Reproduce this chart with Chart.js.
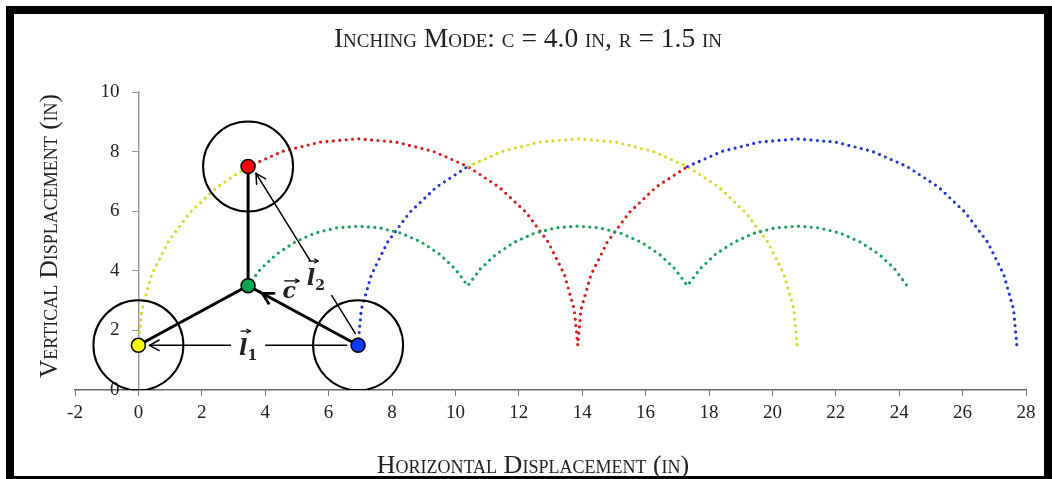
<!DOCTYPE html>
<html>
<head>
<meta charset="utf-8" />
<title>Inching Mode</title>
<script src="https://cdn.jsdelivr.net/npm/chart.js"></script>
<style>
  * { box-sizing: border-box; margin: 0; padding: 0; }
  html, body { width: 1052px; height: 479px; overflow: hidden; background: #fff; }
  #frame {
    position: absolute; left: 6px; top: 6px;
    width: 1046px; height: 478px;
    border: 8px solid #000; /* thick black frame round the figure */
    overflow: hidden;
  }
  #chart { display: block; }
</style>
</head>
<body>
<div id="frame"><canvas id="chart" width="1059" height="462"></canvas></div>
<script>
  const titleText = "Inching Mode: c = 4.0 in, r = 1.5 in";
  const xTitleText = "Horizontal Displacement (in)";
  const yTitleText = "Vertical Displacement (in)";

  // dotted paths (in), null = hidden under another path
  const yellowX = [0, 0.11, 0.42, 0.93, 1.62, 2.48, 3.46, null, 10.39, 11.49, 12.65, 13.86, 15.06, 16.23, 17.32, 18.31, 19.16, 19.86, 20.37, 20.68, 20.78];
  const yellowY = [1.5, 2.7, 3.87, 4.96, 5.95, 6.81, 7.5, null, 7.5, 8.01, 8.32, 8.43, 8.32, 8.01, 7.5, 6.81, 5.95, 4.96, 3.87, 2.7, 1.5];
  const redX = [3.46, 4.56, 5.73, 6.93, 8.13, 9.3, 10.39, 11.38, 12.24, 12.93, 13.44, 13.75, 13.86, 13.96, 14.28, 14.79, 15.48, 16.33, 17.32];
  const redY = [7.5, 8.01, 8.32, 8.43, 8.32, 8.01, 7.5, 6.81, 5.95, 4.96, 3.87, 2.7, 1.5, 2.7, 3.87, 4.96, 5.95, 6.81, 7.5];
  const blueX = [6.93, 7.03, 7.35, 7.86, 8.55, 9.4, 10.39, null, 17.32, 18.42, 19.58, 20.78, 21.99, 23.15, 24.25, 25.24, 26.09, 26.79, 27.3, 27.61, 27.71];
  const blueY = [1.5, 2.7, 3.87, 4.96, 5.95, 6.81, 7.5, null, 7.5, 8.01, 8.32, 8.43, 8.32, 8.01, 7.5, 6.81, 5.95, 4.96, 3.87, 2.7, 1.5];
  const greenX = [3.46, 3.86, 4.36, 4.93, 5.56, 6.23, 6.93, 7.62, 8.3, 8.93, 9.5, 9.99, 10.39,
    10.79, 11.29, 11.86, 12.49, 13.16, 13.86, 14.55, 15.22, 15.86, 16.43, 16.92, 17.32,
    17.72, 18.21, 18.79, 19.42, 20.09, 20.78, 21.48, 22.15, 22.78, 23.36, 23.85, 24.25];
  const greenY = [3.5, 4.07, 4.56, 4.96, 5.26, 5.44, 5.5, 5.44, 5.26, 4.96, 4.56, 4.07, 3.5,
    4.07, 4.56, 4.96, 5.26, 5.44, 5.5, 5.44, 5.26, 4.96, 4.56, 4.07, 3.5,
    4.07, 4.56, 4.96, 5.26, 5.44, 5.5, 5.44, 5.26, 4.96, 4.56, 4.07, 3.5];

  // robot sketch: wheels (yellow, blue, red) and hub (green)
  const nodeX = [0, 6.93, 3.46, 3.46];
  const nodeY = [1.5, 1.5, 7.5, 3.5];
  const nodeColors = ["#ffff00", "#0a3cff", "#ff0000", "#00a650"];

  // vector arrows: start -> tip (in)
  const arrowFromX = [6.57, 6.84];
  const arrowFromY = [1.5, 1.9];
  const arrowToX = [0.35, 3.71];
  const arrowToY = [1.5, 7.27];

  // vector labels
  const labelMain = ["l", "l", "c"];
  const labelSub = ["1", "2", ""];
  const labelX = [3.46, 5.6, 4.76];
  const labelY = [1.44, 3.79, 3.36];

  const pts = (xs, ys) => xs.map((x, i) => ({ x: x, y: ys[i] }));

  function smallCaps(ctx, text, x, y, size, family) {
    ctx.font = size + "px " + family;
    ctx.fontVariantCaps = "small-caps";
    ctx.fillText(text, x, y);
    ctx.fontVariantCaps = "normal";
  }

  function arrowHead(ctx, x0, y0, x1, y1, len, width) {
    const a = Math.atan2(y1 - y0, x1 - x0);
    ctx.lineWidth = width;
    ctx.beginPath();
    ctx.moveTo(x1 - len * Math.cos(a - 0.5), y1 - len * Math.sin(a - 0.5));
    ctx.lineTo(x1, y1);
    ctx.lineTo(x1 - len * Math.cos(a + 0.5), y1 - len * Math.sin(a + 0.5));
    ctx.stroke();
  }

  const overlay = {
    id: "overlay",
    afterDatasetsDraw(chart) {
      const { ctx, scales } = chart;
      const sx = scales.x, sy = scales.y;
      ctx.save();
      ctx.strokeStyle = "#000";
      ctx.lineCap = "round";
      ctx.lineJoin = "round";

      // thin vector arrows l1, l2
      arrowFromX.forEach((fx, i) => {
        const x0 = sx.getPixelForValue(fx), y0 = sy.getPixelForValue(arrowFromY[i]);
        const x1 = sx.getPixelForValue(arrowToX[i]), y1 = sy.getPixelForValue(arrowToY[i]);
        ctx.lineWidth = 1.5;
        ctx.beginPath();
        ctx.moveTo(x0, y0);
        ctx.lineTo(x1, y1);
        ctx.stroke();
        arrowHead(ctx, x0, y0, x1, y1, 11, 1.5);
      });

      // c arrow head on the blue -> hub leg
      const bx = sx.getPixelForValue(nodeX[1]), by = sy.getPixelForValue(nodeY[1]);
      const gx = sx.getPixelForValue(nodeX[3]), gy = sy.getPixelForValue(nodeY[3]);
      const d = Math.hypot(bx - gx, by - gy);
      const tx = gx + (bx - gx) * 16 / d, ty = gy + (by - gy) * 16 / d;
      arrowHead(ctx, bx, by, tx, ty, 12, 2.8);

      // vector labels with arrow above
      labelMain.forEach((m, i) => {
        const px = sx.getPixelForValue(labelX[i]);
        const py = sy.getPixelForValue(labelY[i]);
        ctx.font = "italic bold 22px 'DejaVu Serif'";
        const w = ctx.measureText(m).width;
        ctx.font = "bold 14px 'DejaVu Serif'";
        const ws = labelSub[i] ? ctx.measureText(labelSub[i]).width : 0;
        const left = px - (w + ws) / 2;
        if (labelSub[i]) {
          ctx.fillStyle = "#fff";
          ctx.fillRect(left - 8, py - 16, w + ws + 16, 34);
        }
        ctx.fillStyle = "#222";
        ctx.textBaseline = "alphabetic";
        ctx.textAlign = "left";
        ctx.font = "italic bold 22px 'DejaVu Serif'";
        ctx.fillText(m, left, py + 8);
        if (labelSub[i]) {
          ctx.font = "bold 14px 'DejaVu Serif'";
          ctx.fillText(labelSub[i], left + w, py + 13);
        }
        const ay = m === "c" ? py - 9 : py - 16;
        const ax0 = left + 2, ax1 = left + w + 3;
        ctx.lineWidth = 1.2;
        ctx.beginPath();
        ctx.moveTo(ax0, ay);
        ctx.lineTo(ax1, ay);
        ctx.stroke();
        arrowHead(ctx, ax0, ay, ax1, ay, 4, 1.2);
      });

      // titles
      ctx.fillStyle = "#222";
      ctx.textAlign = "center";
      ctx.textBaseline = "alphabetic";
      smallCaps(ctx, titleText, 514, 33, 27.5, "'Liberation Serif'");
      smallCaps(ctx, xTitleText, 519, 459, 26, "'Liberation Serif'");
      ctx.translate(43, 222);
      ctx.rotate(-Math.PI / 2);
      smallCaps(ctx, yTitleText, 0, 0, 25.3, "'Liberation Serif'");
      ctx.restore();
    }
  };

  const dotted = (color, xs, ys, order) => ({
    type: "line",
    data: pts(xs, ys),
    borderColor: color,
    borderWidth: 3.2,
    borderDash: [0, 6.4],
    borderCapStyle: "round",
    pointRadius: 0,
    spanGaps: false,
    tension: 0,
    order: order,
  });

  const hub = { x: nodeX[3], y: nodeY[3] };
  const legs = [
    { x: nodeX[0], y: nodeY[0] }, hub, { x: nodeX[1], y: nodeY[1] },
    { x: null, y: null },
    { x: nodeX[2], y: nodeY[2] }, hub,
  ];

  new Chart(document.getElementById("chart").getContext("2d"), {
    type: "scatter",
    data: {
      datasets: [
        {
          label: "hubs",
          data: pts(nodeX, nodeY),
          pointRadius: 7,
          pointBackgroundColor: nodeColors,
          pointBorderColor: "#000",
          pointBorderWidth: 1.5,
          order: 0,
        },
        {
          type: "line",
          label: "legs",
          data: legs,
          borderColor: "#000",
          borderWidth: 3,
          pointRadius: 0,
          spanGaps: false,
          order: 1,
        },
        {
          label: "wheels",
          data: pts(nodeX.slice(0, 3), nodeY.slice(0, 3)),
          pointRadius: 45,
          pointBackgroundColor: "rgba(0,0,0,0)",
          pointBorderColor: "#000",
          pointBorderWidth: 2,
          order: 2,
        },
        dotted("#1a9e5c", greenX, greenY, 3),
        dotted("#2236d4", blueX, blueY, 4),
        dotted("#d8d82a", yellowX, yellowY, 5),
        dotted("#d61c1c", redX, redY, 6),
      ],
    },
    options: {
      responsive: false,
      animation: false,
      events: [],
      layout: { padding: { left: 61, right: 18, top: 78, bottom: 0 } },
      plugins: { legend: { display: false }, tooltip: { enabled: false } },
      scales: {
        x: {
          type: "linear",
          min: -2,
          max: 28,
          position: "bottom",
          ticks: { stepSize: 2, padding: 6, color: "#222", font: { family: "'Liberation Serif'", size: 19 } },
          grid: { drawOnChartArea: false, tickLength: 6, color: "#777" },
          border: { color: "#666", width: 1.5 },
          afterFit: (s) => { s.height = 86; },
        },
        y: {
          type: "linear",
          min: 0,
          max: 10,
          position: { x: 0 },
          ticks: {
            stepSize: 2,
            color: "#222",
            font: { family: "'Liberation Serif'", size: 19 },
            callback: (v) => v + "\u2003", // labels sit clear of the axis
          },
          grid: { drawOnChartArea: false, tickLength: 6, color: "#999" },
          border: { color: "#999", width: 1.5 },
        },
      },
    },
    plugins: [overlay],
  });
</script>
</body>
</html>
